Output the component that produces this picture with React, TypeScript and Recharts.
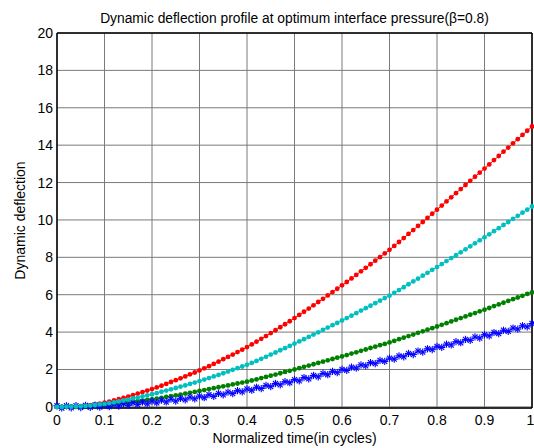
import {LineChart, Line, XAxis, YAxis, CartesianGrid, ReferenceLine} from 'recharts'

// normalized time, step 0.01
const times: number[] = Array.from({length: 101}, (_, i) => i / 100)

const redVals = [
    0.00, 0.00, 0.01, 0.01, 0.02, 0.04, 0.06, 0.09, 0.13, 0.17,
    0.22, 0.28, 0.34, 0.41, 0.48, 0.55, 0.63, 0.71, 0.79, 0.87,
    0.95, 1.04, 1.13, 1.23, 1.33, 1.43, 1.53, 1.63, 1.74, 1.84,
    1.95, 2.06, 2.18, 2.30, 2.42, 2.55, 2.67, 2.80, 2.93, 3.06,
    3.20, 3.34, 3.49, 3.64, 3.79, 3.95, 4.10, 4.26, 4.42, 4.58,
    4.75, 4.92, 5.09, 5.26, 5.43, 5.61, 5.78, 5.96, 6.14, 6.32,
    6.50, 6.68, 6.87, 7.06, 7.25, 7.44, 7.63, 7.82, 8.01, 8.21,
    8.40, 8.61, 8.82, 9.03, 9.25, 9.46, 9.68, 9.89, 10.11, 10.33,
    10.55, 10.77, 10.99, 11.21, 11.43, 11.65, 11.87, 12.09, 12.31, 12.53,
    12.75, 12.97, 13.20, 13.42, 13.65, 13.87, 14.10, 14.32, 14.55, 14.77,
    15.00
]

const cyanVals = [
    0.00, 0.00, 0.01, 0.01, 0.02, 0.03, 0.05, 0.07, 0.10, 0.13,
    0.16, 0.20, 0.24, 0.29, 0.34, 0.39, 0.45, 0.50, 0.56, 0.62,
    0.68, 0.74, 0.81, 0.87, 0.94, 1.01, 1.08, 1.15, 1.23, 1.30,
    1.38, 1.46, 1.54, 1.63, 1.71, 1.80, 1.89, 1.98, 2.07, 2.16,
    2.25, 2.35, 2.46, 2.57, 2.68, 2.80, 2.91, 3.03, 3.14, 3.26,
    3.38, 3.50, 3.62, 3.74, 3.87, 3.99, 4.12, 4.24, 4.37, 4.49,
    4.62, 4.75, 4.88, 5.01, 5.15, 5.28, 5.41, 5.55, 5.68, 5.82,
    5.95, 6.10, 6.25, 6.40, 6.56, 6.71, 6.86, 7.02, 7.17, 7.33,
    7.48, 7.64, 7.80, 7.96, 8.11, 8.27, 8.43, 8.59, 8.75, 8.91,
    9.07, 9.23, 9.40, 9.56, 9.73, 9.89, 10.06, 10.22, 10.39, 10.55,
    10.72
]

const greenVals = [
    0.00, 0.00, 0.00, 0.01, 0.01, 0.02, 0.03, 0.04, 0.06, 0.08,
    0.10, 0.12, 0.15, 0.17, 0.20, 0.23, 0.27, 0.30, 0.33, 0.37,
    0.40, 0.44, 0.48, 0.53, 0.57, 0.62, 0.66, 0.71, 0.75, 0.80,
    0.85, 0.90, 0.95, 1.00, 1.05, 1.10, 1.15, 1.20, 1.25, 1.30,
    1.35, 1.41, 1.47, 1.54, 1.60, 1.67, 1.73, 1.80, 1.87, 1.93,
    2.00, 2.07, 2.14, 2.21, 2.28, 2.35, 2.42, 2.49, 2.56, 2.63,
    2.70, 2.77, 2.85, 2.92, 3.00, 3.07, 3.15, 3.22, 3.30, 3.37,
    3.45, 3.53, 3.62, 3.70, 3.79, 3.87, 3.96, 4.04, 4.13, 4.21,
    4.30, 4.39, 4.48, 4.57, 4.66, 4.75, 4.84, 4.93, 5.02, 5.11,
    5.20, 5.29, 5.39, 5.48, 5.57, 5.67, 5.76, 5.85, 5.94, 6.04,
    6.13
]

// blue stars scatter a little around their trend
const blueVals = [
    0.06, -0.06, 0.06, -0.05, 0.07, -0.04, 0.08, -0.03, 0.10, -0.01,
    0.12, 0.01, 0.15, 0.04, 0.18, 0.08, 0.22, 0.12, 0.26, 0.16,
    0.31, 0.21, 0.36, 0.26, 0.41, 0.31, 0.46, 0.37, 0.52, 0.43,
    0.58, 0.49, 0.65, 0.56, 0.72, 0.64, 0.79, 0.71, 0.87, 0.80,
    0.96, 0.89, 1.05, 0.98, 1.15, 1.08, 1.25, 1.18, 1.35, 1.29,
    1.46, 1.39, 1.57, 1.50, 1.68, 1.61, 1.79, 1.72, 1.90, 1.83,
    2.01, 1.95, 2.13, 2.07, 2.25, 2.19, 2.37, 2.31, 2.49, 2.43,
    2.61, 2.55, 2.73, 2.68, 2.86, 2.80, 2.99, 2.93, 3.11, 3.06,
    3.24, 3.18, 3.36, 3.31, 3.49, 3.43, 3.61, 3.56, 3.74, 3.68,
    3.86, 3.80, 3.98, 3.92, 4.10, 4.04, 4.22, 4.16, 4.34, 4.28,
    4.46
]

const xTicks = [0, 0.1, 0.2, 0.3, 0.4, 0.5, 0.6, 0.7, 0.8, 0.9, 1]
const yTicks = [0, 2, 4, 6, 8, 10, 12, 14, 16, 18, 20]

const font = '"Liberation Sans", Arial, sans-serif'

function Star(props: any) {
    const {cx, cy, key} = props
    if (cx == null || cy == null) return null
    const s = 3.6
    return (
        <g key={key} stroke='#0000ff' strokeWidth={1.1}>
            <line x1={cx - s} y1={cy} x2={cx + s} y2={cy} />
            <line x1={cx} y1={cy - s} x2={cx} y2={cy + s} />
            <line x1={cx - s * 0.7} y1={cy - s * 0.7} x2={cx + s * 0.7} y2={cy + s * 0.7} />
            <line x1={cx - s * 0.7} y1={cy + s * 0.7} x2={cx + s * 0.7} y2={cy - s * 0.7} />
        </g>
    )
}

export default function App() {
    const data = times.map((t, i) => ({
        t,
        red: redVals[i],
        cyan: cyanVals[i],
        green: greenVals[i],
        blue: blueVals[i]
    }))

    return (
        <div style={{position: 'relative', width: 534, height: 448, fontFamily: font, background: '#fff'}}>
            <style>{'body{margin:0}'}</style>
            <div style={{position: 'absolute', top: 11, left: 57, width: 475, textAlign: 'center', fontSize: 13.8, color: '#000', whiteSpace: 'nowrap'}}>
                Dynamic deflection profile at optimum interface pressure(β=0.8)
            </div>
            <LineChart width={534} height={448} data={data}
                margin={{top: 33, right: 2, bottom: 0, left: 0}}>
                <CartesianGrid stroke='#7a7a7a' strokeWidth={1} />
                <XAxis dataKey='t' type='number' domain={[0, 1]} ticks={xTicks} height={40}
                    tickLine={false} tickSize={0} tickMargin={7}
                    axisLine={{stroke: '#000', strokeWidth: 1.5}}
                    tick={{fill: '#000', fontSize: 14, fontFamily: font}}
                    label={{value: 'Normalized time(in cycles)', position: 'insideBottom', offset: 5, fill: '#000', fontSize: 14, fontFamily: font}} />
                <YAxis type='number' domain={[0, 20]} ticks={yTicks} width={57}
                    tickLine={false} tickSize={0} tickMargin={4} interval={0}
                    axisLine={{stroke: '#000', strokeWidth: 1.5}}
                    tick={{fill: '#000', fontSize: 14, fontFamily: font}}
                    label={{value: 'Dynamic deflection', angle: -90, position: 'insideLeft', offset: 20, fill: '#000', fontSize: 14, fontFamily: font, style: {textAnchor: 'middle'}}} />
                <ReferenceLine y={20} stroke='#000' strokeWidth={1.5} />
                <ReferenceLine x={1} stroke='#000' strokeWidth={1.5} />
                <Line dataKey='red' stroke='#ff0000' strokeWidth={1} isAnimationActive={false}
                    dot={{r: 2.4, fill: '#ff0000', stroke: 'none'}} />
                <Line dataKey='green' stroke='#008000' strokeWidth={1} isAnimationActive={false}
                    dot={{r: 2.4, fill: '#008000', stroke: 'none'}} />
                <Line dataKey='blue' stroke='#6a6aff' strokeWidth={0.8} isAnimationActive={false}
                    dot={Star} />
                <Line dataKey='cyan' stroke='#00bfbf' strokeWidth={1} isAnimationActive={false}
                    dot={{r: 2.4, fill: '#00bfbf', stroke: 'none'}} />
            </LineChart>
        </div>
    )
}
